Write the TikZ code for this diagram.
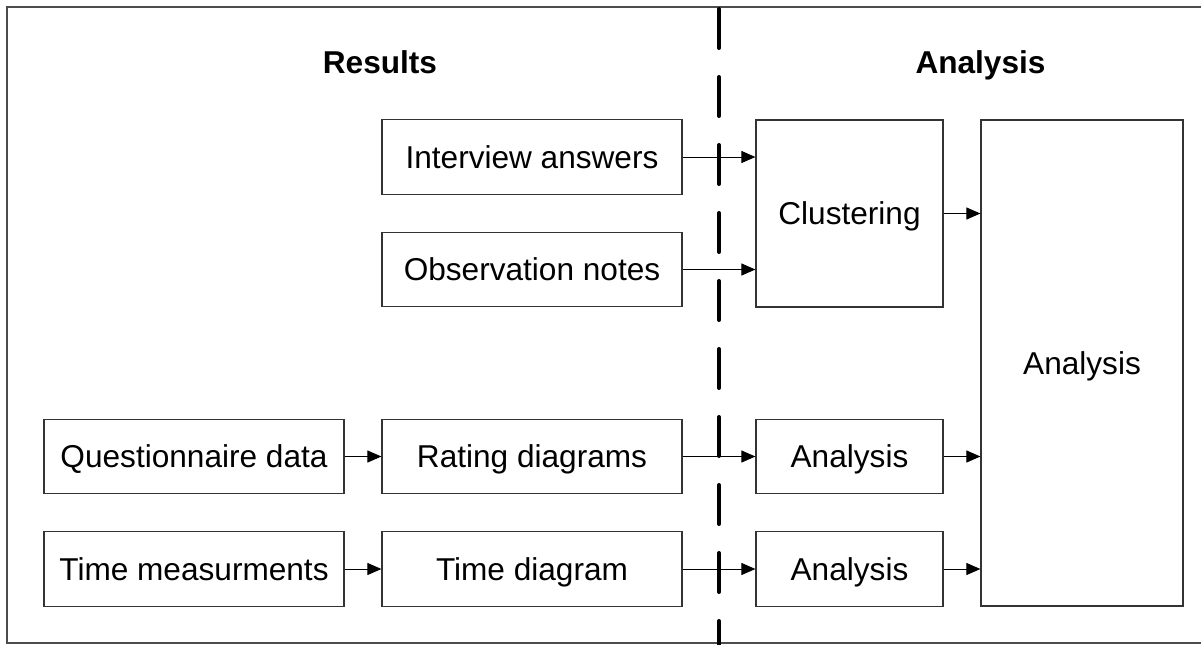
\documentclass[tikz,border=0pt]{standalone}
\usepackage{fontspec}
\setmainfont{Liberation Sans}
\usetikzlibrary{arrows.meta}
\begin{document}
\begin{tikzpicture}[x=0.5pt,y=-0.5pt,
  txt/.style={font=\fontsize{15.8}{19}\selectfont, text height=11.3pt, text depth=0pt, inner sep=0pt},
  box/.style={txt, draw=black!80, line width=0.6pt, minimum height=37.25pt},
  wide/.style={box, minimum width=150pt},
  narrow/.style={box, minimum width=93.5pt},
  head/.style={txt, font=\fontsize{15.8}{19}\selectfont\bfseries},
  conn/.style={line width=0.5pt, -{Triangle[length=7pt,width=6pt]}},
  divider/.style={line width=2pt, line cap=round, dash pattern=on 19.5pt off 14.5pt}]
\useasboundingbox (0,0) rectangle (1201,644);

% outer frame (open on the right)
\draw[black!70, line width=0.75pt] (1201,7) -- (7,7) -- (7,643) -- (1201,643);

% section headings
\node[head] (hres) at (380,62.5) {Results};
\node[head] (hana) at (980.5,62.5) {Analysis};

% results column
\node[wide] (iv) at (532,157) {Interview answers};
\node[wide] (ob) at (532,269.5) {Observation notes};
\node[wide] (qd) at (194,456.5) {Questionnaire data};
\node[wide] (tm) at (194,569) {Time measurments};
\node[wide] (rd) at (532,456.5) {Rating diagrams};
\node[wide] (td) at (532,569) {Time diagram};

% analysis column
\node[box, minimum width=93.5pt, minimum height=93.5pt] (clu) at (849.5,213.5) {Clustering};
\node[narrow] (a1) at (849.5,456.5) {Analysis};
\node[narrow] (a2) at (849.5,569) {Analysis};
\node[box, minimum width=101pt, minimum height=243pt] (big) at (1082,363) {Analysis};

% separator between the two phases
\coordinate (dtop) at (719,9);
\coordinate (dbot) at (719,700);

% connectors
\draw[conn] (qd.east) -- (rd.west);
\draw[conn] (tm.east) -- (td.west);
\draw[conn] (iv.east) -- (clu.west |- iv.east);
\draw[conn] (ob.east) -- (clu.west |- ob.east);
\draw[conn] (rd.east) -- (a1.west);
\draw[conn] (td.east) -- (a2.west);
\draw[conn] (clu.east) -- (big.west |- clu.east);
\draw[conn] (a1.east) -- (big.west |- a1.east);
\draw[conn] (a2.east) -- (big.west |- a2.east);

\draw[divider] (dtop) -- (dbot);
\end{tikzpicture}
\end{document}
